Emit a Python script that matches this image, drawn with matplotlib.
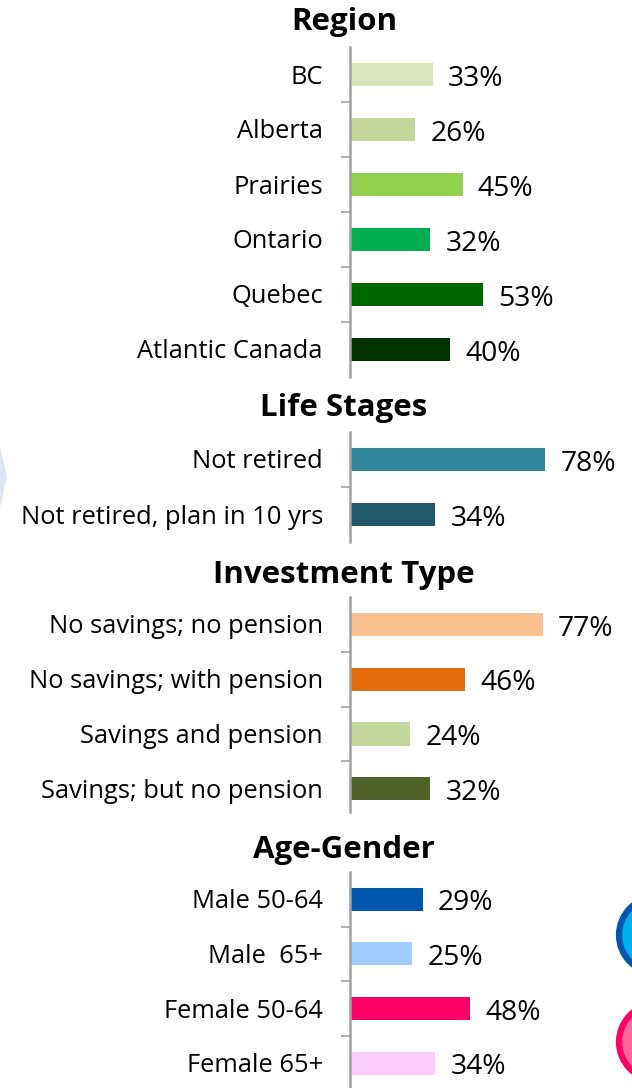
import matplotlib
matplotlib.use("Agg")
import matplotlib.pyplot as plt
from matplotlib.patches import Polygon, Circle

W, H = 632, 1088
plt.rcParams['font.family'] = ['Open Sans', 'DejaVu Sans']

region_labels = ["BC", "Alberta", "Prairies", "Ontario", "Quebec", "Atlantic Canada"]
region_values = [33, 26, 45, 32, 53, 40]
region_colors = ["#d8e4bc", "#c4d79b", "#92d050", "#00b050", "#006600", "#003300"]

life_labels = ["Not retired", "Not retired, plan in 10 yrs"]
life_values = [78, 34]
life_colors = ["#31859c", "#215968"]

invest_labels = ["No savings; no pension", "No savings; with pension",
                 "Savings and pension", "Savings; but no pension"]
invest_values = [77, 46, 24, 32]
invest_colors = ["#fac090", "#e46c0a", "#c3d69b", "#4f6228"]

age_labels = ["Male 50-64", "Male  65+", "Female 50-64", "Female 65+"]
age_values = [29, 25, 48, 34]
age_colors = ["#0058ac", "#9fcdff", "#ff0066", "#ffccff"]

fig = plt.figure(figsize=(W / 100, H / 100), dpi=100)

# background shapes, in pixels
bg = fig.add_axes([0, 0, 1, 1])
bg.set_xlim(0, W)
bg.set_ylim(H, 0)
bg.axis("off")
bg.add_patch(Polygon([(-20, 440), (0, 447), (7, 477), (0, 507), (-20, 512)], fc="#dce6f2", ec="none"))
bg.add_patch(Circle((657, 935), 38, fc="#00b0f0", ec="#0058ac", lw=4.5))
bg.add_patch(Circle((657, 1042), 38, fc="#ff6699", ec="#ff0066", lw=4.5))


def panel(title, title_y, top, labels, values, colors, axis_end, row=55):
    # the axis line can stop short of the last row
    x0, x1 = 350, 632
    n = len(labels)
    bottom = top + row * n
    ax = fig.add_axes([x0 / W, 1 - bottom / H, (x1 - x0) / W, (bottom - top) / H])
    ax.patch.set_alpha(0)
    ax.barh(range(n), values, height=0.42, color=colors)
    ax.set_xlim(0, (x1 - x0) / 2.5)
    ax.set_ylim(n - 0.5, -0.5)
    for s in ["top", "right", "bottom"]:
        ax.spines[s].set_visible(False)
    ax.spines["left"].set_color("#a0a0a0")
    ax.spines["left"].set_linewidth(1.8)
    ax.spines["left"].set_bounds(-0.5, (axis_end - top) / row - 0.5)
    ax.set_xticks([])
    ax.set_yticks([i + 0.5 for i in range(n - 1)])
    ax.set_yticklabels([])
    ax.tick_params(axis="y", which="major", length=6.5, width=1.2, color="#a0a0a0")
    for i, (lab, v) in enumerate(zip(labels, values)):
        ax.annotate(lab, (0, i), xytext=(-19.5, -1.8), textcoords="offset points",
                    va="center", ha="right", fontsize=18.4, color="black")
        ax.annotate(f"{v}%", (v, i), xytext=(11, -3), textcoords="offset points",
                    va="center", ha="left", fontsize=20.3, color="black")
    bg.text(344, title_y, title, ha="center", va="center", fontsize=22.5, fontweight="bold", color="black")


panel("Region", 22, 47, region_labels, region_values, region_colors, 377)
panel("Life Stages", 408, 432, life_labels, life_values, life_colors, 542)
panel("Investment Type", 575, 597, invest_labels, invest_values, invest_colors, 812, row=54.8)
panel("Age-Gender", 850, 872, age_labels, age_values, age_colors, 1088, row=54.6)

fig.savefig("out.png", dpi=100)
